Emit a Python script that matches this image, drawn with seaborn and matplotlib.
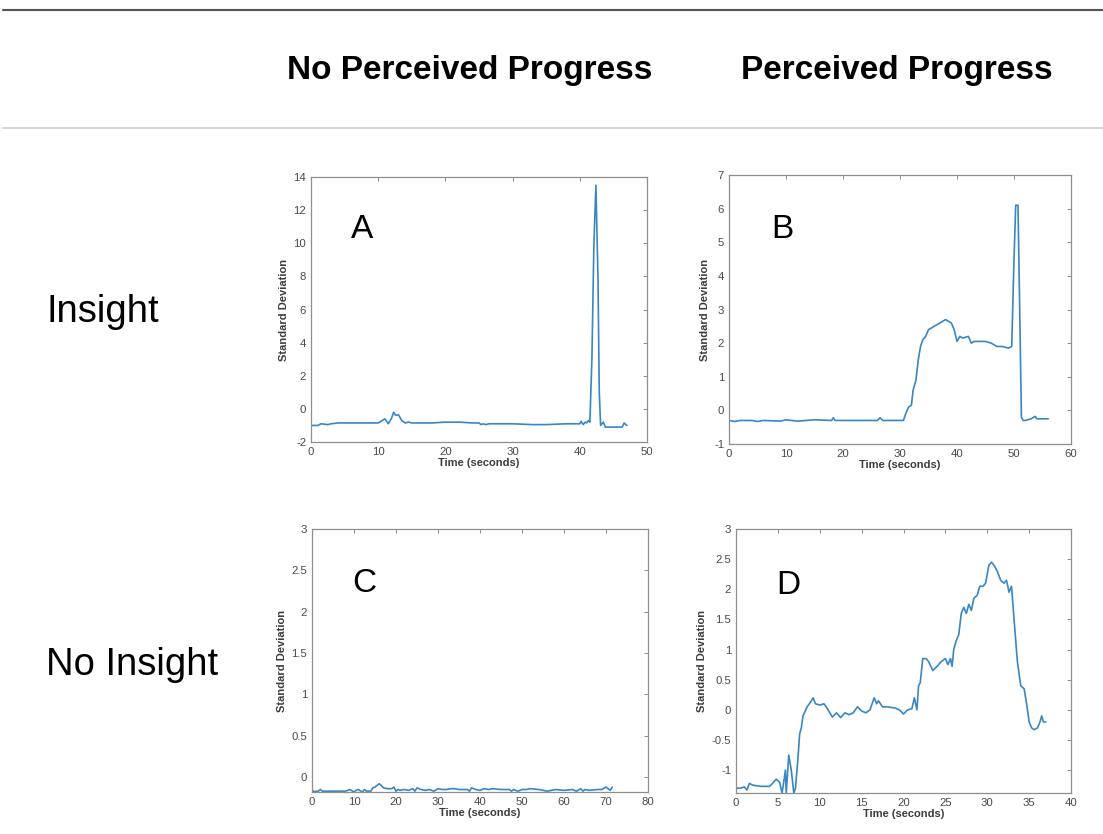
import matplotlib
matplotlib.use("Agg")
import matplotlib.pyplot as plt
import seaborn as sns
from matplotlib.ticker import FuncFormatter
from matplotlib.lines import Line2D

# ---------------- data ----------------
col_titles = ["No Perceived Progress", "Perceived Progress"]
row_titles = ["Insight", "No Insight"]
panel_letters = ["A", "B", "C", "D"]

a_time = [0, 1, 1.5, 2.5, 3, 4, 6, 8,
          10, 11, 11.5, 12, 12.3, 12.6, 13, 13.5,
          14, 14.5, 15, 18, 20, 22, 24, 25,
          25.3, 25.6, 26, 26.5, 28, 30, 33, 35,
          38, 40, 40.2, 40.5, 40.8, 41, 41.3, 41.5,
          41.8, 42.1, 42.4, 42.7, 42.9, 43.1, 43.5, 43.8,
          45, 46.3, 46.6, 47]
a_sd = [-1.0, -1.0, -0.9, -0.95, -0.9, -0.85, -0.85, -0.85,
        -0.85, -0.6, -0.9, -0.55, -0.2, -0.4, -0.35, -0.7,
        -0.85, -0.8, -0.85, -0.85, -0.8, -0.8, -0.85, -0.85,
        -0.95, -0.9, -0.95, -0.9, -0.9, -0.9, -0.95, -0.95,
        -0.9, -0.9, -0.75, -0.95, -0.8, -0.85, -0.7, -0.8,
        3.0, 10.0, 13.5, 8.0, 1.0, -1.0, -0.8, -1.1,
        -1.1, -1.1, -0.85, -1.0]

b_time = [0, 1, 2, 4, 5, 6, 9, 10,
          12, 15, 18, 18.3, 18.6, 22, 26, 26.5,
          27, 30, 30.6, 31, 31.5, 32, 32.3, 32.8,
          33.2, 33.6, 34, 34.5, 35, 36, 37, 38,
          38.5, 39, 39.5, 40, 40.5, 41, 42, 42.5,
          43, 45, 46, 47, 48, 49, 49.6, 50,
          50.3, 50.7, 51, 51.3, 51.6, 52, 53, 53.7,
          54, 55, 56]
b_sd = [-0.3, -0.33, -0.3, -0.3, -0.33, -0.3, -0.32, -0.28,
        -0.32, -0.28, -0.3, -0.22, -0.3, -0.3, -0.3, -0.22,
        -0.3, -0.3, -0.3, -0.1, 0.1, 0.15, 0.6, 0.9,
        1.5, 1.9, 2.1, 2.2, 2.4, 2.5, 2.6, 2.7,
        2.65, 2.6, 2.4, 2.05, 2.2, 2.15, 2.2, 2.0,
        2.05, 2.05, 2.0, 1.9, 1.9, 1.85, 1.9, 4.5,
        6.1, 6.1, 3.0, -0.2, -0.3, -0.3, -0.25, -0.18,
        -0.25, -0.25, -0.25]

c_time = [0, 0.5, 1, 1.5, 2, 2.5, 3, 5,
          7, 8, 9, 10, 10.5, 11, 12, 12.5,
          13, 14, 14.5, 15, 16, 16.5, 17, 18,
          19, 19.5, 20, 20.5, 21, 22, 23, 24,
          24.5, 25, 26, 27, 28, 29, 30, 31,
          32, 33, 34, 35, 36, 37, 37.5, 38,
          39, 40, 41, 42, 43, 45, 47, 47.5,
          48, 49, 50, 51, 52, 54, 56, 58,
          60, 62, 63, 64, 64.5, 65, 66, 68,
          69, 70, 71, 71.5]
c_sd = [-0.15, -0.18, -0.17, -0.17, -0.15, -0.17, -0.17, -0.17,
        -0.17, -0.17, -0.15, -0.18, -0.16, -0.15, -0.18, -0.15,
        -0.17, -0.17, -0.13, -0.12, -0.08, -0.10, -0.13, -0.14,
        -0.14, -0.12, -0.17, -0.15, -0.16, -0.15, -0.16, -0.14,
        -0.17, -0.13, -0.15, -0.16, -0.15, -0.17, -0.14, -0.15,
        -0.15, -0.14, -0.14, -0.15, -0.15, -0.15, -0.17, -0.13,
        -0.15, -0.16, -0.14, -0.15, -0.14, -0.15, -0.15, -0.17,
        -0.15, -0.17, -0.15, -0.15, -0.14, -0.15, -0.17, -0.15,
        -0.16, -0.15, -0.17, -0.14, -0.17, -0.15, -0.16, -0.15,
        -0.15, -0.12, -0.16, -0.12]

d_time = [0, 0.5, 1.0, 1.3, 1.6, 2, 3, 4,
          4.5, 4.8, 5.2, 5.5, 5.7, 5.9, 6.0, 6.3,
          6.6, 6.9, 7.1, 7.4, 7.6, 7.8, 8.0, 8.5,
          9.0, 9.2, 9.5, 10, 10.5, 11, 11.5, 12,
          12.5, 13, 13.5, 14, 14.5, 15, 15.5, 16,
          16.5, 16.8, 17, 17.5, 18, 19, 19.5, 20,
          20.5, 21, 21.3, 21.6, 21.8, 22, 22.3, 22.7,
          23, 23.5, 24, 24.5, 25, 25.3, 25.6, 25.8,
          26, 26.3, 26.6, 26.9, 27.2, 27.5, 27.8, 28.1,
          28.4, 28.8, 29.1, 29.5, 29.8, 30.2, 30.5, 30.8,
          31.2, 31.6, 32, 32.3, 32.6, 32.9, 33.2, 33.6,
          34, 34.4, 34.7, 35, 35.3, 35.6, 36, 36.3,
          36.5, 36.7, 37]
d_sd = [-1.3, -1.3, -1.28, -1.33, -1.22, -1.25, -1.27, -1.27,
        -1.2, -1.15, -1.2, -1.38, -1.2, -1.0, -1.38, -0.75,
        -1.0, -1.38, -1.3, -0.8, -0.4, -0.3, -0.1, 0.05,
        0.15, 0.2, 0.1, 0.08, 0.1, 0.0, -0.12, -0.05,
        -0.13, -0.05, -0.08, -0.05, 0.05, -0.02, -0.05, 0.0,
        0.2, 0.1, 0.15, 0.05, 0.05, 0.03, 0.0, -0.07,
        0.0, 0.02, 0.2, 0.0, 0.4, 0.45, 0.85, 0.85,
        0.8, 0.65, 0.72, 0.8, 0.85, 0.75, 0.85, 0.72,
        1.0, 1.15, 1.25, 1.6, 1.7, 1.6, 1.75, 1.65,
        1.85, 1.9, 2.05, 2.05, 2.1, 2.4, 2.45, 2.4,
        2.3, 2.15, 2.1, 2.15, 1.95, 2.05, 1.5, 0.8,
        0.4, 0.35, 0.1, -0.2, -0.3, -0.33, -0.3, -0.2,
        -0.1, -0.2, -0.2]

x_ticks = [[0, 10, 20, 30, 40, 50], [0, 10, 20, 30, 40, 50, 60],
           [0, 10, 20, 30, 40, 50, 60, 70, 80], [0, 5, 10, 15, 20, 25, 30, 35, 40]]
y_ticks = [[-2, 0, 2, 4, 6, 8, 10, 12, 14], [-1, 0, 1, 2, 3, 4, 5, 6, 7],
           [0, 0.5, 1, 1.5, 2, 2.5, 3], [-1, -0.5, 0, 0.5, 1, 1.5, 2, 2.5, 3]]
x_lims = [(0, 50), (0, 60), (0, 80), (0, 40)]
y_lims = [(-2, 14), (-1, 7), (-0.18, 3), (-1.38, 3)]

# ---------------- style ----------------
sns.set_theme(style="white")
plt.rcParams["font.family"] = ["Liberation Sans", "DejaVu Sans"]
plt.rcParams["axes.unicode_minus"] = False

LINE = "#3a86c2"
SPINE = "#8e8e8e"
TICKTXT = "#4a4a4a"

W, H = 1103, 834
fig = plt.figure(figsize=(W / 100, H / 100), dpi=100)

def px_rect(x0, y0, x1, y1):
    return [x0 / W, 1 - y1 / H, (x1 - x0) / W, (y1 - y0) / H]

rects = [px_rect(311, 177, 647, 442), px_rect(729, 175, 1071, 444),
         px_rect(312, 529, 648, 792), px_rect(736, 529, 1071, 793)]
series = [(a_time, a_sd), (b_time, b_sd), (c_time, c_sd), (d_time, d_sd)]
letter_pos = [(362, 230), (782, 230), (364, 583), (788, 585)]

fmt = FuncFormatter(lambda v, p: "%g" % v)

for i in range(4):
    ax = fig.add_axes(rects[i])
    t, s = series[i]
    sns.lineplot(x=t, y=s, ax=ax, color=LINE, linewidth=1.2,
                 estimator=None, sort=False)
    ax.set_xlim(*x_lims[i])
    ax.set_ylim(*y_lims[i])
    ax.set_xticks(x_ticks[i])
    ax.set_yticks(y_ticks[i])
    ax.xaxis.set_major_formatter(fmt)
    ax.yaxis.set_major_formatter(fmt)
    ax.tick_params(direction="in", top=True, right=True, length=3, width=0.7,
                   color=SPINE, labelcolor=TICKTXT, labelsize=8.2, pad=3.5)
    for sp in ax.spines.values():
        sp.set_color(SPINE)
        sp.set_linewidth(0.9)
        sp.set_visible(True)
    ax.set_xlabel("Time (seconds)", fontsize=8, fontweight="bold",
                  color="#3c3c3c", labelpad=0.5)
    ax.set_ylabel("Standard Deviation", fontsize=8, fontweight="bold",
                  color="#3c3c3c", labelpad=3)
    fig.text(letter_pos[i][0] / W, 1 - letter_pos[i][1] / H, panel_letters[i],
             fontsize=24, ha="center", va="center", color="black")

# header titles and separators
fig.text(470 / W, 1 - 70 / H, col_titles[0], fontsize=24, fontweight="bold",
         ha="center", va="center", color="black")
fig.text(897 / W, 1 - 70 / H, col_titles[1], fontsize=24, fontweight="bold",
         ha="center", va="center", color="black")
fig.text(46 / W, 1 - 312 / H, row_titles[0], fontsize=27.5, ha="left",
         va="center", color="black")
fig.text(46 / W, 1 - 665 / H, row_titles[1], fontsize=27.5, ha="left",
         va="center", color="black")

fig.add_artist(Line2D([3 / W, 1], [1 - 10 / H, 1 - 10 / H], color="#555555",
                      linewidth=1.5, transform=fig.transFigure))
fig.add_artist(Line2D([3 / W, 1], [1 - 128 / H, 1 - 128 / H], color="#d8d8d8",
                      linewidth=1.5, transform=fig.transFigure))

fig.savefig("out.png", dpi=100, facecolor="white")
